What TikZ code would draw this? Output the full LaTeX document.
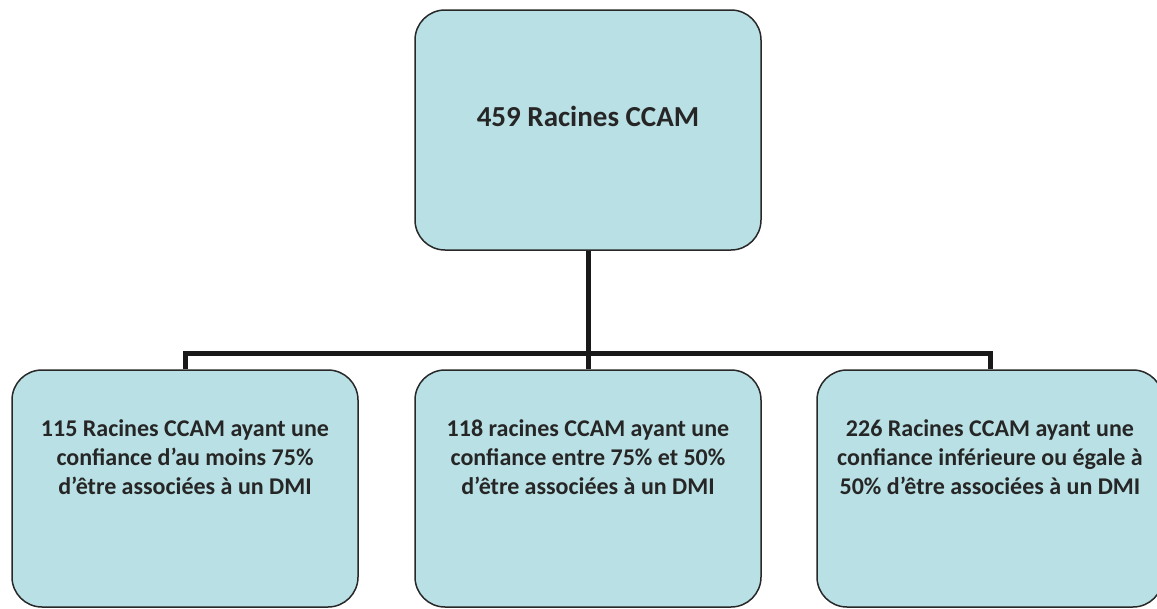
\documentclass[tikz,border=0pt]{standalone}
\usepackage{fontspec}
\setmainfont{Carlito}
\definecolor{boxfill}{RGB}{185,224,228}
\definecolor{boxline}{RGB}{40,40,40}
\definecolor{txt}{RGB}{38,38,38}
\tikzset{
  box/.style={draw=boxline, line width=1.5pt, fill=boxfill, rounded corners=30pt, minimum width=346pt, inner sep=0pt},
  conn/.style={draw=black!90, line width=5pt, line join=miter},
  lbl/.style={text=txt, font=\bfseries\fontsize{24}{28.8}\selectfont, align=center},
  toplbl/.style={text=txt, font=\bfseries\fontsize{29}{34}\selectfont, align=center}
}
\begin{document}
\begin{tikzpicture}[x=1pt,y=-1pt]
\useasboundingbox (0,0) rectangle (1157,608);
\clip (0,0) rectangle (1157,608);
\node[box, minimum height=240pt] (top) at (588,130) {};
\node[box, minimum height=237pt] (b1) at (185,488.5) {};
\node[box, minimum height=237pt] (b2) at (588,488.5) {};
\node[box, minimum height=237pt] (b3) at (990,488.5) {};
\coordinate (j) at (588,353);
\draw[conn] (top.south) -- (j);
\draw[conn] (b1.north) |- (j) -| (b3.north);
\draw[conn] (j) -- (b2.north);
\node[toplbl] (t0) at (588,116) {459 Racines CCAM};
\node[lbl] (t1) at (185,457) {115 Racines CCAM ayant une\\confiance d’au moins 75\%\\d’être associées à un DMI};
\node[lbl] (t2) at (588,457) {118 racines CCAM ayant une\\confiance entre 75\% et 50\%\\d’être associées à un DMI};
\node[lbl] (t3) at (990,457) {226 Racines CCAM ayant une\\confiance inférieure ou égale à\\50\% d’être associées à un DMI};
\end{tikzpicture}
\end{document}
